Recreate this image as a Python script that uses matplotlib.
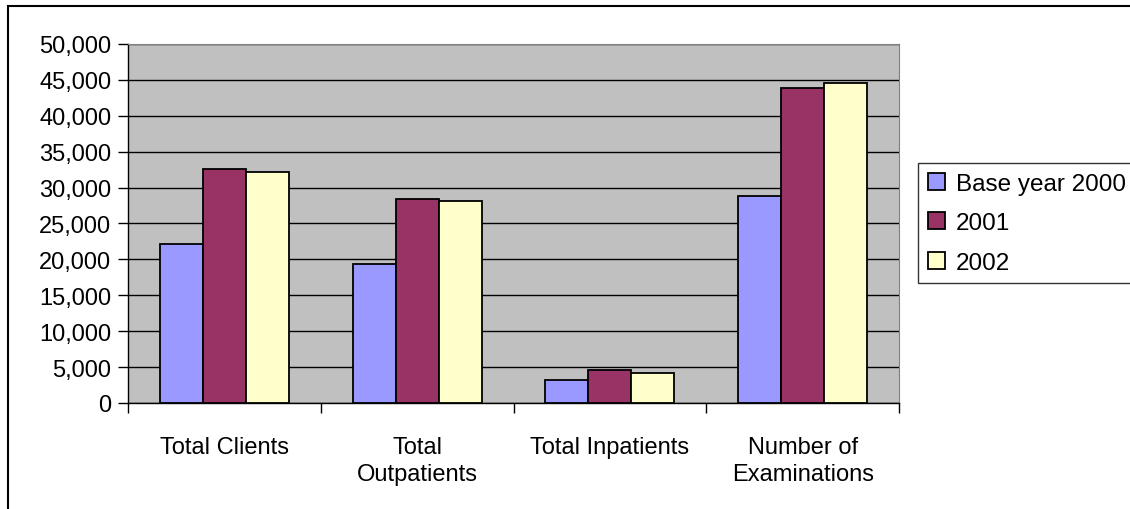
import numpy as np
import matplotlib.pyplot as plt
from matplotlib.patches import Rectangle
from matplotlib.ticker import FuncFormatter, MultipleLocator

plt.rcParams['font.family'] = ['Liberation Sans', 'DejaVu Sans']

# data
categories = ['Total Clients', 'Total\nOutpatients', 'Total Inpatients', 'Number of\nExaminations']
series_names = ['Base year 2000', '2001', '2002']
base_2000 = [22200, 19400, 3150, 28800]
year_2001 = [32600, 28400, 4600, 43900]
year_2002 = [32200, 28100, 4150, 44600]
y_ticks = list(range(0, 50001, 5000))

colors = ['#9999FF', '#993366', '#FFFFCC']

fig = plt.figure(figsize=(11.3, 5.1), dpi=100)
ax = fig.add_axes([128 / 1130, 106 / 510, 771 / 1130, 359 / 510])
ax.set_facecolor('#C0C0C0')

x = np.arange(len(categories))
width = 0.223
for i, (name, vals) in enumerate(zip(series_names, [base_2000, year_2001, year_2002])):
    ax.bar(x + (i - 1) * width, vals, width, color=colors[i], edgecolor='black',
           linewidth=1.3, label=name, zorder=3)

ax.set_xlim(-0.5, len(categories) - 0.5)
ax.set_ylim(0, 50000)
ax.set_yticks(y_ticks)
ax.yaxis.set_major_formatter(FuncFormatter(lambda v, p: f'{int(v):,}'))
ax.yaxis.grid(True, color='black', linewidth=1.0, zorder=1)
ax.set_axisbelow(True)

ax.set_xticks(x)
ax.set_xticklabels(categories, linespacing=1.25)
ax.xaxis.set_minor_locator(MultipleLocator(1, offset=0.5))
ax.tick_params(axis='x', which='major', length=0, pad=24, labelsize=17)
ax.tick_params(axis='x', which='minor', length=7, width=1, direction='out')
ax.tick_params(axis='y', length=7, width=1, direction='out', labelsize=17, pad=5)

for side in ['top', 'right']:
    ax.spines[side].set_color('#808080')
for side in ['left', 'bottom']:
    ax.spines[side].set_color('black')
    ax.spines[side].set_linewidth(1.0)

leg = fig.legend(loc='upper left', bbox_to_anchor=(918 / 1130, 346 / 510),
                 fontsize=17.5, frameon=True, fancybox=False, edgecolor='black',
                 handlelength=0.7, handleheight=0.7, handletextpad=0.45,
                 labelspacing=0.72, borderpad=0.4, borderaxespad=0)
leg.get_frame().set_linewidth(1.0)

# outer chart border (cropped on the right and bottom)
fig.patches.append(Rectangle((8 / 1130, -0.1), 1.2, 503 / 510 + 0.1, transform=fig.transFigure,
                             fill=False, edgecolor='black', linewidth=1.5, clip_on=False))

fig.savefig('out.png', dpi=100)
